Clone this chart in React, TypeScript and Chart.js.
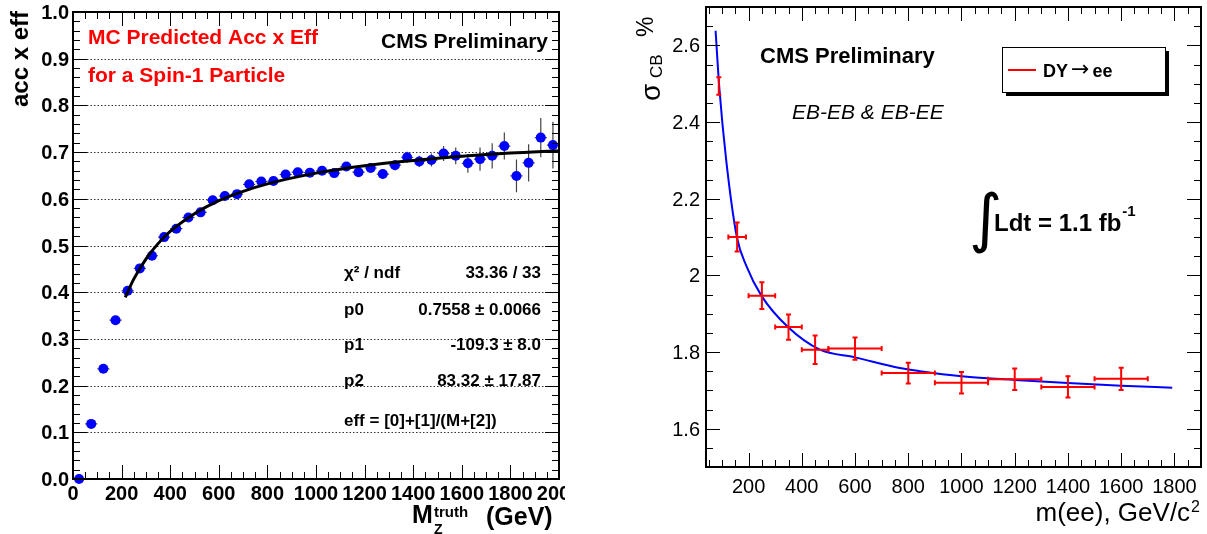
import React, { useEffect, useRef } from "react";
import { Chart, registerables } from "chart.js";

Chart.register(...registerables);

// ---------------- Left panel: acceptance x efficiency ----------------
const accMass = [25, 75, 125, 175, 225, 275, 325, 375, 425, 475, 525, 575, 625, 675, 725, 775, 825, 875, 925, 975,
  1025, 1075, 1125, 1175, 1225, 1275, 1325, 1375, 1425, 1475, 1525, 1575, 1625, 1675, 1725, 1775, 1825, 1875, 1925, 1975];
const accValue = [0.000, 0.118, 0.236, 0.340, 0.403, 0.451, 0.478, 0.518, 0.536, 0.560,
  0.571, 0.597, 0.606, 0.610, 0.631, 0.637, 0.638, 0.652, 0.657, 0.656,
  0.660, 0.655, 0.669, 0.657, 0.666, 0.653, 0.672, 0.689, 0.680, 0.683,
  0.697, 0.692, 0.676, 0.685, 0.692, 0.713, 0.649, 0.677, 0.731, 0.715];
const accErr = [0.003, 0.004, 0.004, 0.004, 0.004, 0.004, 0.005, 0.005, 0.005, 0.005,
  0.005, 0.005, 0.005, 0.005, 0.005, 0.006, 0.006, 0.006, 0.007, 0.007,
  0.007, 0.008, 0.008, 0.009, 0.009, 0.010, 0.011, 0.012, 0.012, 0.014,
  0.016, 0.018, 0.020, 0.025, 0.027, 0.029, 0.035, 0.040, 0.042, 0.050];
const accBinHalfWidth = 25;
const accFitMass = [215, 250, 300, 350, 400, 500, 600, 700, 800, 1000, 1200, 1400, 1600, 1800, 2000];
const accFitValue = [0.389, 0.428, 0.471, 0.504, 0.530, 0.568, 0.596, 0.616, 0.632, 0.655, 0.671, 0.682, 0.691, 0.698, 0.703];
const accXTicks = [0, 200, 400, 600, 800, 1000, 1200, 1400, 1600, 1800, 2000];
const accXTickLabels = ["0", "200", "400", "600", "800", "1000", "1200", "1400", "1600", "1800", "2000"];
const accYTicks = [0, 0.1, 0.2, 0.3, 0.4, 0.5, 0.6, 0.7, 0.8, 0.9, 1.0];
const accYTickLabels = ["0.0", "0.1", "0.2", "0.3", "0.4", "0.5", "0.6", "0.7", "0.8", "0.9", "1.0"];
const statNames = ["χ² / ndf", "p0", "p1", "p2"];
const statValues = ["33.36 / 33", "0.7558 ± 0.0066", "-109.3 ± 8.0", "83.32 ± 17.87"];
const fitFormula = "eff = [0]+[1]/(M+[2])";

// ---------------- Right panel: resolution ----------------
const resMass = [88, 157, 250, 350, 450, 600, 800, 1000, 1200, 1400, 1600];
const resMassErr = [2, 33, 50, 50, 50, 100, 100, 100, 100, 100, 100];
const resSigma = [2.494, 2.100, 1.947, 1.865, 1.806, 1.809, 1.745, 1.720, 1.729, 1.709, 1.730];
const resSigmaErr = [0.023, 0.038, 0.035, 0.033, 0.037, 0.029, 0.027, 0.028, 0.028, 0.028, 0.029];
const resFitMass = [76, 90, 116, 156, 192, 248, 348, 468, 600, 768, 843, 1000, 1200, 1400, 1600, 1792];
const resFitSigma = [2.638, 2.49, 2.30, 2.10, 2.024, 1.947, 1.865, 1.806, 1.786, 1.758, 1.750, 1.737, 1.727, 1.719, 1.712, 1.707];
const resXTicks = [200, 400, 600, 800, 1000, 1200, 1400, 1600, 1800];
const resXTickLabels = ["200", "400", "600", "800", "1000", "1200", "1400", "1600", "1800"];
const resYTicks = [1.6, 1.8, 2.0, 2.2, 2.4, 2.6];
const resYTickLabels = ["1.6", "1.8", "2", "2.2", "2.4", "2.6"];

const FONT = '"Liberation Sans", Arial, Helvetica, sans-serif';

function txt(ctx: any, s: string, x: number, y: number, font: string, color = "#000", align = "left") {
  ctx.font = font;
  ctx.fillStyle = color;
  ctx.textAlign = align;
  ctx.textBaseline = "alphabetic";
  ctx.fillText(s, x, y);
}

function drawFrameAndTicks(chart: any, xs: { min: number; max: number; minor: number; major: number },
  ys: { min: number; max: number; minor: number; major: number }) {
  const { ctx, chartArea: a, scales } = chart;
  const x = scales.x, y = scales.y;
  ctx.save();
  ctx.strokeStyle = "#000";
  ctx.lineWidth = 1;
  ctx.beginPath();
  const nx = Math.round((xs.max - xs.min) / xs.minor);
  for (let k = 0; k <= nx; k++) {
    const v = xs.min + k * xs.minor;
    const isMajor = Math.abs(v / xs.major - Math.round(v / xs.major)) < 1e-6;
    const len = isMajor ? 14 : 7;
    const px = Math.round(x.getPixelForValue(v)) + 0.5;
    if (px < a.left || px > a.right) continue;
    ctx.moveTo(px, a.bottom); ctx.lineTo(px, a.bottom - len);
    ctx.moveTo(px, a.top); ctx.lineTo(px, a.top + len);
  }
  const ny = Math.round((ys.max - ys.min) / ys.minor);
  for (let k = 0; k <= ny; k++) {
    const v = ys.min + k * ys.minor;
    const isMajor = Math.abs(v / ys.major - Math.round(v / ys.major)) < 1e-6;
    const len = isMajor ? 14 : 7;
    const py = Math.round(y.getPixelForValue(v)) + 0.5;
    if (py < a.top - 0.5 || py > a.bottom + 0.5) continue;
    ctx.moveTo(a.left, py); ctx.lineTo(a.left + len, py);
    ctx.moveTo(a.right, py); ctx.lineTo(a.right - len, py);
  }
  ctx.stroke();
  ctx.lineWidth = 2;
  ctx.strokeRect(a.left, a.top, a.right - a.left, a.bottom - a.top);
  ctx.restore();
}

const leftPlugin = {
  id: "leftDecor",
  beforeDatasetsDraw(chart: any) {
    const { ctx, chartArea: a, scales } = chart;
    const x = scales.x, y = scales.y;
    ctx.save();
    ctx.strokeStyle = "#333";
    ctx.lineWidth = 1;
    ctx.setLineDash([1.5, 2]);
    for (const v of accYTicks) {
      if (v <= 0 || v >= 1) continue;
      const py = Math.round(y.getPixelForValue(v)) + 0.5;
      ctx.beginPath(); ctx.moveTo(a.left, py); ctx.lineTo(a.right, py); ctx.stroke();
    }
    ctx.setLineDash([]);
    ctx.strokeStyle = "#444";
    ctx.lineWidth = 1.2;
    for (let i = 0; i < accMass.length; i++) {
      const px = x.getPixelForValue(accMass[i]);
      const py = y.getPixelForValue(accValue[i]);
      ctx.beginPath();
      ctx.moveTo(px, y.getPixelForValue(accValue[i] - accErr[i]));
      ctx.lineTo(px, y.getPixelForValue(accValue[i] + accErr[i]));
      ctx.moveTo(x.getPixelForValue(accMass[i] - accBinHalfWidth), py);
      ctx.lineTo(x.getPixelForValue(accMass[i] + accBinHalfWidth), py);
      ctx.stroke();
    }
    ctx.restore();
  },
  afterDraw(chart: any) {
    const { ctx, chartArea: a, scales } = chart;
    const x = scales.x, y = scales.y;
    drawFrameAndTicks(chart, { min: 0, max: 2000, minor: 50, major: 200 }, { min: 0, max: 1, minor: 0.02, major: 0.1 });
    ctx.save();
    const tickFont = `bold 20px ${FONT}`;
    accYTicks.forEach((v, i) => txt(ctx, accYTickLabels[i], a.left - 4, y.getPixelForValue(v) + 7, tickFont, "#000", "right"));
    accXTicks.forEach((v, i) => txt(ctx, accXTickLabels[i], x.getPixelForValue(v), 500, tickFont, "#000", "center"));
    // y title
    ctx.save();
    ctx.translate(28, 11);
    ctx.rotate(-Math.PI / 2);
    txt(ctx, "acc x eff", 0, 0, `bold 24px ${FONT}`, "#000", "right");
    ctx.restore();
    // x title
    txt(ctx, "M", 412, 523, `bold 25px ${FONT}`);
    txt(ctx, "truth", 434, 517, `bold 15px ${FONT}`);
    txt(ctx, "Z", 434, 534, `bold 14px ${FONT}`);
    txt(ctx, "(GeV)", 486, 525, `bold 25px ${FONT}`);
    // annotations
    txt(ctx, "MC Predicted Acc x Eff", 88, 44, `bold 21px ${FONT}`, "#ff0000");
    txt(ctx, "for a Spin-1 Particle", 88, 82, `bold 21px ${FONT}`, "#ff0000");
    txt(ctx, "CMS Preliminary", 548, 48, `bold 21px ${FONT}`, "#000", "right");
    const statBase = [278, 315, 350, 386];
    const sf = `bold 17px ${FONT}`;
    statNames.forEach((n, i) => {
      txt(ctx, n, 344, statBase[i], sf);
      txt(ctx, statValues[i], 541, statBase[i], sf, "#000", "right");
    });
    txt(ctx, fitFormula, 344, 426, sf);
    ctx.restore();
  },
};

const rightPlugin = {
  id: "rightDecor",
  afterDatasetsDraw(chart: any) {
    const { ctx, scales } = chart;
    const x = scales.x, y = scales.y;
    ctx.save();
    ctx.strokeStyle = "#ff0000";
    ctx.lineWidth = 2;
    const cap = 2.5;
    for (let i = 0; i < resMass.length; i++) {
      const px = x.getPixelForValue(resMass[i]);
      const py = y.getPixelForValue(resSigma[i]);
      const x0 = x.getPixelForValue(resMass[i] - resMassErr[i]);
      const x1 = x.getPixelForValue(resMass[i] + resMassErr[i]);
      const y0 = y.getPixelForValue(resSigma[i] - resSigmaErr[i]);
      const y1 = y.getPixelForValue(resSigma[i] + resSigmaErr[i]);
      ctx.beginPath();
      ctx.moveTo(px, y0); ctx.lineTo(px, y1);
      ctx.moveTo(px - cap, y0); ctx.lineTo(px + cap, y0);
      ctx.moveTo(px - cap, y1); ctx.lineTo(px + cap, y1);
      if (x1 - x0 > 6) {
        ctx.moveTo(x0, py); ctx.lineTo(x1, py);
        ctx.moveTo(x0, py - cap); ctx.lineTo(x0, py + cap);
        ctx.moveTo(x1, py - cap); ctx.lineTo(x1, py + cap);
      }
      ctx.stroke();
    }
    ctx.restore();
  },
  afterDraw(chart: any) {
    const { ctx, chartArea: a, scales } = chart;
    const x = scales.x, y = scales.y;
    drawFrameAndTicks(chart, { min: 0, max: 1900, minor: 50, major: 200 }, { min: 1.5, max: 2.7, minor: 0.05, major: 0.2 });
    ctx.save();
    const tickFont = `20px ${FONT}`;
    resYTicks.forEach((v, i) => txt(ctx, resYTickLabels[i], a.left - 6, y.getPixelForValue(v) + 7, tickFont, "#000", "right"));
    resXTicks.forEach((v, i) => txt(ctx, resXTickLabels[i], x.getPixelForValue(v), 493, tickFont, "#000", "center"));
    // y title (canvas offset 565)
    const ox = 565;
    ctx.save();
    ctx.translate(660 - ox, 101);
    ctx.rotate(-Math.PI / 2);
    txt(ctx, "σ", 0, 0, `28px ${FONT}`);
    txt(ctx, "CB", 23, 2, `17px ${FONT}`);
    txt(ctx, "%", 64, -7, `23px ${FONT}`);
    ctx.restore();
    // x title
    ctx.font = `16px ${FONT}`;
    const w2 = ctx.measureText("2").width;
    txt(ctx, "m(ee), GeV/c", 1200 - ox - w2 - 1, 521, `26px ${FONT}`, "#000", "right");
    txt(ctx, "2", 1200 - ox - w2, 512, `16px ${FONT}`);
    // annotations
    txt(ctx, "CMS Preliminary", 760 - ox, 63, `bold 22px ${FONT}`);
    txt(ctx, "EB-EB & EB-EE", 792 - ox, 119, `italic 21px ${FONT}`);
    // legend
    const lx = 1002 - ox, ly = 47, lw = 163, lh = 45;
    ctx.fillStyle = "#000";
    ctx.fillRect(lx + 4, ly + 4, lw, lh);
    ctx.fillStyle = "#fff";
    ctx.fillRect(lx, ly, lw, lh);
    ctx.strokeStyle = "#000";
    ctx.lineWidth = 1;
    ctx.strokeRect(lx + 0.5, ly + 0.5, lw, lh);
    ctx.strokeStyle = "#ff0000";
    ctx.lineWidth = 2;
    ctx.beginPath(); ctx.moveTo(1008 - ox, 70); ctx.lineTo(1036 - ox, 70); ctx.stroke();
    const lf = `bold 18px ${FONT}`;
    const af = `22px "DejaVu Sans", ${FONT}`;
    txt(ctx, "DY", 1043 - ox, 77, lf);
    ctx.font = lf;
    const wdy = ctx.measureText("DY").width + 3;
    txt(ctx, "→", 1043 - ox + wdy, 76, af);
    ctx.font = af;
    const war = ctx.measureText("→").width;
    txt(ctx, "ee", 1043 - ox + wdy + war + 3, 77, lf);
    // luminosity
    txt(ctx, "∫", 969 - ox, 240, `64px "DejaVu Sans", ${FONT}`);
    ctx.font = `bold 24px ${FONT}`;
    const wl = ctx.measureText("Ldt = 1.1 fb").width;
    txt(ctx, "Ldt = 1.1 fb", 994 - ox, 231, `bold 24px ${FONT}`);
    txt(ctx, "-1", 994 - ox + wl + 1, 216, `bold 15px ${FONT}`);
    ctx.restore();
  },
};

function baseOptions(xr: [number, number], yr: [number, number], pad: any, xh: number, yw: number) {
  return {
    responsive: false,
    animation: false,
    events: [],
    layout: { padding: pad },
    plugins: { legend: { display: false }, tooltip: { enabled: false } },
    scales: {
      x: {
        type: "linear", min: xr[0], max: xr[1],
        grid: { display: false }, border: { display: false }, ticks: { display: false },
        afterFit(s: any) { s.height = xh; s.paddingLeft = 0; s.paddingRight = 0; },
      },
      y: {
        type: "linear", min: yr[0], max: yr[1],
        grid: { display: false }, border: { display: false }, ticks: { display: false },
        afterFit(s: any) { s.width = yw; s.paddingTop = 0; s.paddingBottom = 0; },
      },
    },
  };
}

export default function App() {
  const leftRef = useRef<HTMLCanvasElement>(null);
  const rightRef = useRef<HTMLCanvasElement>(null);

  useEffect(() => {
    const left = new Chart(leftRef.current as HTMLCanvasElement, {
      type: "scatter",
      data: {
        datasets: [
          {
            type: "line",
            data: accFitMass.map((m, i) => ({ x: m, y: accFitValue[i] })),
            borderColor: "#000",
            borderWidth: 3,
            pointRadius: 0,
            cubicInterpolationMode: "monotone",
            order: 0,
          } as any,
          {
            type: "scatter",
            data: accMass.map((m, i) => ({ x: m, y: accValue[i] })),
            backgroundColor: "#0000ff",
            borderWidth: 0,
            pointRadius: 5,
            clip: false,
            order: 1,
          } as any,
        ],
      },
      options: baseOptions([0, 2000], [0, 1], { left: 0, top: 12, right: 6, bottom: 0 }, 55, 73) as any,
      plugins: [leftPlugin],
    });
    const right = new Chart(rightRef.current as HTMLCanvasElement, {
      type: "scatter",
      data: {
        datasets: [
          {
            type: "line",
            data: resFitMass.map((m, i) => ({ x: m, y: resFitSigma[i] })),
            borderColor: "#0000ff",
            borderWidth: 2,
            pointRadius: 0,
            cubicInterpolationMode: "monotone",
          } as any,
          {
            type: "scatter",
            data: resMass.map((m, i) => ({ x: m, y: resSigma[i] })),
            pointRadius: 0,
          } as any,
        ],
      },
      options: baseOptions([40, 1900], [1.5, 2.7], { left: 0, top: 7, right: 6, bottom: 0 }, 67, 141) as any,
      plugins: [rightPlugin],
    });
    return () => { left.destroy(); right.destroy(); };
  }, []);

  return (
    <div style={{ position: "fixed", left: 0, top: 0, width: 1207, height: 534, background: "#fff" }}>
      <canvas ref={leftRef} width={565} height={534} style={{ position: "absolute", left: 0, top: 0, width: 565, height: 534 }} />
      <canvas ref={rightRef} width={642} height={534} style={{ position: "absolute", left: 565, top: 0, width: 642, height: 534 }} />
    </div>
  );
}
